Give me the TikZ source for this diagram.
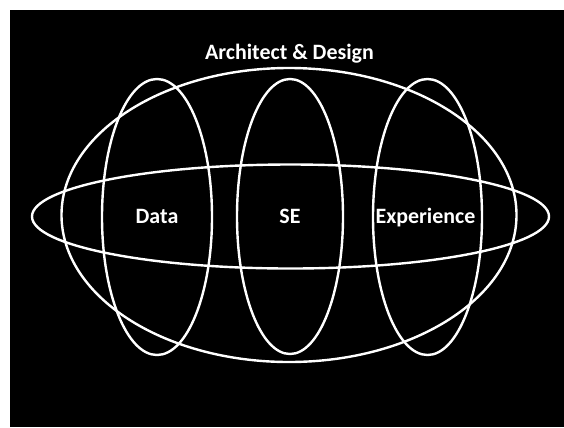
\documentclass[tikz,border=0pt]{standalone}
\usepackage{fontspec}
\setmainfont{Carlito}
\usetikzlibrary{shapes.geometric}
\begin{document}
\begin{tikzpicture}[x=1bp,y=-1bp,
  ring/.style={ellipse,draw=white,line width=2.4bp,inner sep=0pt,outer sep=0pt},
  lbl/.style={text=white,font=\fontsize{22}{26}\selectfont\bfseries,inner sep=0pt,anchor=base}]
\fill[white] (0,0) rectangle (564,427);
\useasboundingbox (0,0) rectangle (564,427);
\fill[black] (10,10) rectangle (564,427);
\node[ring,minimum width=455bp,minimum height=294bp] (arch) at (289,215) {};
\node[ring,minimum width=517bp,minimum height=104bp] (horiz) at (290.5,216.5) {};
\node[ring,minimum width=110bp,minimum height=276bp] (dataring) at (157,217) {};
\node[ring,minimum width=106bp,minimum height=275bp] (sering) at (290,216.5) {};
\node[ring,minimum width=109bp,minimum height=276bp] (expring) at (427.5,217) {};
\node[lbl] (archlbl) at (289.5,59) {Architect \& Design};
\node[lbl] (data) at (157,223.5) {Data};
\node[lbl] (se) at (290,223.5) {SE};
\node[lbl] (exp) at (425.5,223.5) {Experience};
\end{tikzpicture}
\end{document}
